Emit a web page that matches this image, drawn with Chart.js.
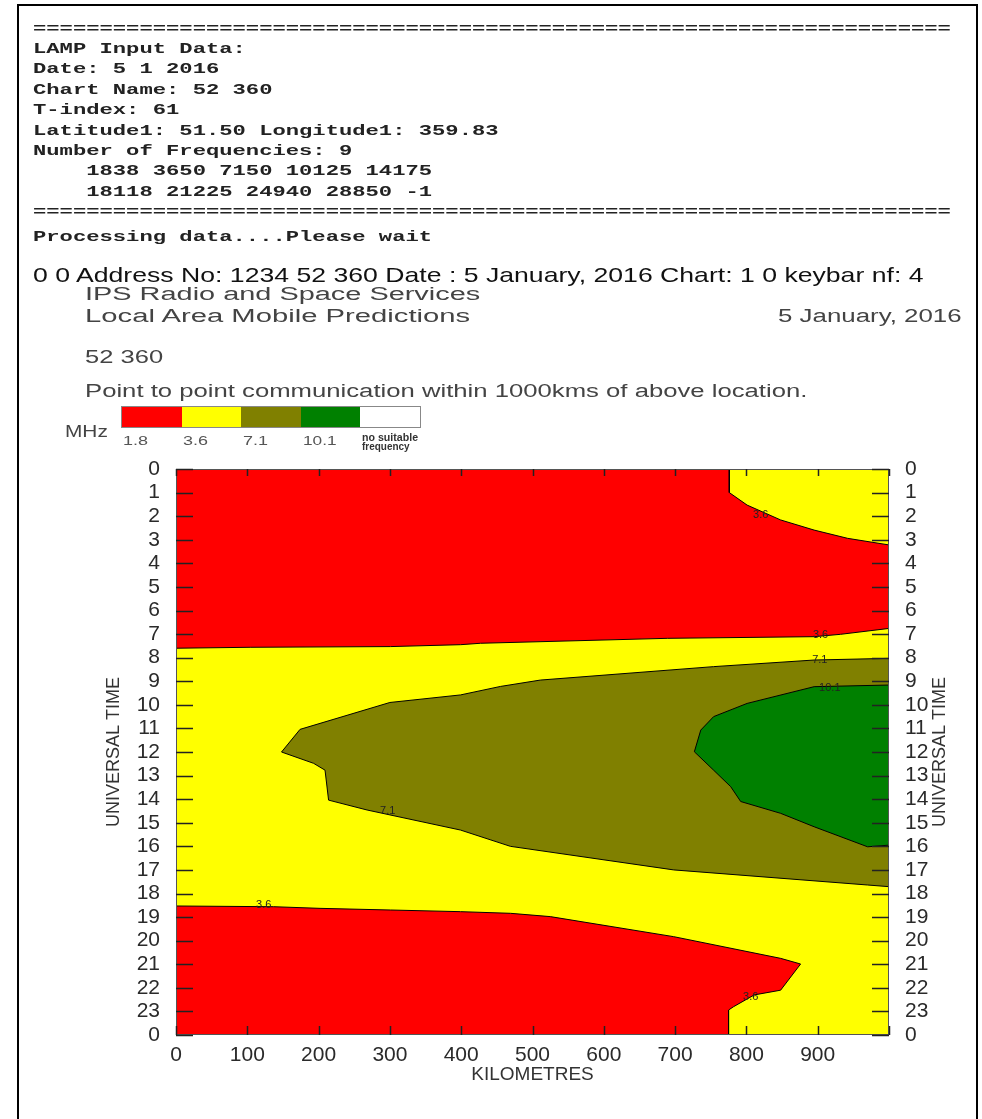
<!DOCTYPE html>
<html>
<head>
<meta charset="utf-8">
<title>LAMP chart 52 360</title>
<script src="https://cdn.jsdelivr.net/npm/chart.js@4.4.1/dist/chart.umd.min.js"></script>
<style>
  body { margin: 0; background: #fff; width: 982px; height: 1119px; overflow: hidden; position: relative; }
  #frame { position: absolute; left: 17px; top: 4px; width: 957px; height: 1200px; border: 2px solid #000; }
  #chart { position: absolute; left: 0; top: 0; }
  .t { position: absolute; white-space: pre; transform-origin: 0 50%; }
  .mono { font-family: "Liberation Mono", monospace; font-weight: bold; font-size: 15px; line-height: 20px; color: #222; }
  .sans { font-family: "Liberation Sans", Arial, sans-serif; color: #444; }
  .cell { position: absolute; top: 0; height: 20px; }
  #keybar { position: absolute; left: 122px; top: 407px; width: 298px; height: 20px; outline: 1px solid #888; }
</style>
</head>
<body>
<div id="frame"></div>
<canvas id="chart" width="982" height="1119"></canvas>

<div class="t mono" data-x="33" data-y="29.5">=====================================================================</div>
<div class="t mono" data-x="33" data-y="49.9">LAMP Input Data:</div>
<div class="t mono" data-x="33" data-y="70.3">Date: 5 1 2016</div>
<div class="t mono" data-x="33" data-y="90.7">Chart Name: 52 360</div>
<div class="t mono" data-x="33" data-y="111.1">T-index: 61</div>
<div class="t mono" data-x="33" data-y="131.5">Latitude1: 51.50 Longitude1: 359.83</div>
<div class="t mono" data-x="33" data-y="151.9">Number of Frequencies: 9</div>
<div class="t mono" data-x="33" data-y="172.3">    1838 3650 7150 10125 14175</div>
<div class="t mono" data-x="33" data-y="192.7">    18118 21225 24940 28850 -1</div>
<div class="t mono" data-x="33" data-y="213.1">=====================================================================</div>
<div class="t mono" data-x="33" data-y="237.5">Processing data....Please wait</div>

<div class="t sans" style="font-size:21px;color:#111" data-x="33" data-y="275" data-w="890">0 0 Address No: 1234 52 360 Date : 5 January, 2016 Chart: 1 0 keybar nf: 4</div>
<div class="t sans" style="font-size:18px" data-x="85" data-y="294" data-w="395">IPS Radio and Space Services</div>
<div class="t sans" style="font-size:18px" data-x="85" data-y="316" data-w="385">Local Area Mobile Predictions</div>
<div class="t sans" style="font-size:18px" data-x="778" data-y="316" data-w="184">5 January, 2016</div>
<div class="t sans" style="font-size:18px" data-x="85" data-y="357" data-w="78">52 360</div>
<div class="t sans" style="font-size:18px" data-x="85" data-y="391" data-w="722">Point to point communication within 1000kms of above location.</div>
<div class="t sans" style="font-size:16px" data-x="65" data-y="432" data-w="43">MHz</div>

<div id="keybar"></div>
<div id="keylabels"></div>

<script>
// legend (key bar)
var keyColors = ['#ff0000', '#ffff00', '#808000', '#008000', '#ffffff'];
var keyLabels = ['1.8', '3.6', '7.1', '10.1'];

// tick labels
var kmTicks = ['0', '100', '200', '300', '400', '500', '600', '700', '800', '900', ''];
var hourTicks = ['0', '1', '2', '3', '4', '5', '6', '7', '8', '9', '10', '11', '12',
                 '13', '14', '15', '16', '17', '18', '19', '20', '21', '22', '23', '0'];

// contour regions, [km, UT hour]
var redTop = [[0, 0], [776, 0], [776, 1.0], [801, 1.53], [848, 2.16], [895, 2.59], [942, 2.94],
              [1000, 3.22], [1000, 6.76], [932, 7.01], [895, 7.11], [689, 7.18], [427, 7.39],
              [399, 7.45], [301, 7.53], [104, 7.56], [0, 7.6]];
var redBottom = [[0, 18.53], [137, 18.56], [202, 18.63], [301, 18.7], [399, 18.77], [469, 18.84],
                 [525, 18.98], [698, 19.83], [848, 20.75], [876, 20.99], [848, 22.1], [811, 22.3],
                 [782, 22.8], [775, 22.94], [775, 24], [0, 24]];
var olive = [[1000, 8.03], [895, 8.1], [754, 8.38], [511, 8.95], [455, 9.22], [399, 9.58], [300, 9.9],
             [174, 11.04], [148, 12.0], [193, 12.48], [209, 12.77], [214, 14.04], [268, 14.46],
             [399, 15.31], [469, 16.0], [698, 17.0], [970, 17.64], [1000, 17.71]];
var green = [[1000, 9.16], [895, 9.23], [801, 9.94], [754, 10.5], [736, 11.07], [727, 11.99],
             [754, 12.77], [778, 13.47], [792, 14.1], [848, 14.6], [895, 15.17], [970, 16.02], [1000, 15.95]];

// contour labels [km, hour, text]
var contourLabels = [[820, 1.95, '3.6'], [904, 7.03, '3.6'], [903, 8.1, '7.1'], [917, 9.3, '10.1'],
                     [297, 14.5, '7.1'], [123, 18.5, '3.6'], [806, 22.4, '3.6']];

// key bar cells + labels
var bar = document.getElementById('keybar');
keyColors.forEach(function (c, i) {
    var d = document.createElement('div');
    d.className = 'cell';
    d.style.left = (i * 59.6) + 'px';
    d.style.width = '59.6px';
    d.style.background = c;
    bar.appendChild(d);
});
var kl = document.getElementById('keylabels');
keyLabels.forEach(function (s, i) {
    var d = document.createElement('div');
    d.className = 't sans';
    d.style.fontSize = '13px';
    d.style.color = '#555';
    d.dataset.x = 123 + i * 60;
    d.dataset.y = 440;
    d.dataset.w = s.length * 8.3;
    d.textContent = s;
    kl.appendChild(d);
});
[['no suitable', 437, 56], ['frequency', 446, 48]].forEach(function (r) {
    var d = document.createElement('div');
    d.className = 't sans';
    d.style.fontSize = '11px';
    d.style.fontWeight = 'bold';
    d.style.color = '#333';
    d.dataset.x = 362;
    d.dataset.y = r[1];
    d.dataset.w = r[2];
    d.textContent = r[0];
    kl.appendChild(d);
});

// place and stretch text like the wide original
document.querySelectorAll('.t').forEach(function (el) {
    var w = el.dataset.w ? +el.dataset.w : el.textContent.length * 13.3;
    el.style.left = el.dataset.x + 'px';
    el.style.top = (el.dataset.y - el.offsetHeight / 2) + 'px';
    el.style.transform = 'scaleX(' + (w / el.offsetWidth) + ')';
});

Chart.defaults.font.family = '"Liberation Sans", Arial, sans-serif';

function onEdge(a, b) {
    return (a[0] === b[0] && (a[0] === 0 || a[0] === 1000)) ||
           (a[1] === b[1] && (a[1] === 0 || a[1] === 24));
}

function toXY(pts) {
    return pts.map(function (p) { return {x: p[0], y: p[1]}; });
}

// filled area of one region
function regionFill(pts, color, order) {
    return {
        data: toXY(pts),
        backgroundColor: color,
        borderWidth: 0,
        fill: 'shape',
        pointRadius: 0,
        tension: 0,
        order: order
    };
}

// its black contour, left out where it runs along the plot frame
function regionLine(pts) {
    return {
        data: toXY(pts),
        borderColor: '#000',
        borderWidth: 1,
        fill: false,
        pointRadius: 0,
        tension: 0,
        order: 0,
        segment: {
            borderColor: function (ctx) {
                return onEdge(pts[ctx.p0DataIndex], pts[ctx.p1DataIndex]) ? 'rgba(0,0,0,0)' : '#000';
            }
        }
    };
}

var plotPlugin = {
    id: 'plotExtras',
    beforeDraw: function (chart) {
        var a = chart.chartArea, ctx = chart.ctx;
        ctx.save();
        ctx.fillStyle = '#ffff00';
        ctx.fillRect(a.left, a.top, a.right - a.left, a.bottom - a.top);
        ctx.restore();
    },
    afterDraw: function (chart) {
        var a = chart.chartArea, ctx = chart.ctx;
        var x = chart.scales.x, y = chart.scales.y;
        ctx.save();
        // contour labels
        ctx.fillStyle = '#222';
        ctx.font = '11px "Liberation Sans", Arial, sans-serif';
        ctx.textAlign = 'center';
        ctx.textBaseline = 'middle';
        contourLabels.forEach(function (c) {
            ctx.fillText(c[2], x.getPixelForValue(c[0]), y.getPixelForValue(c[1]));
        });
        // frame
        ctx.strokeStyle = '#555';
        ctx.lineWidth = 1;
        ctx.strokeRect(a.left + 0.5, a.top + 0.5, a.right - a.left - 1, a.bottom - a.top - 1);
        // inward tick marks
        ctx.strokeStyle = '#222';
        ctx.lineWidth = 1.5;
        ctx.beginPath();
        y.ticks.forEach(function (t) {
            var py = Math.round(y.getPixelForValue(t.value)) + 0.5;
            ctx.moveTo(a.left, py); ctx.lineTo(a.left + 17, py);
            ctx.moveTo(a.right - 17, py); ctx.lineTo(a.right, py);
        });
        x.ticks.forEach(function (t) {
            var px = Math.round(x.getPixelForValue(t.value)) + 0.5;
            ctx.moveTo(px, a.top); ctx.lineTo(px, a.top + 7);
            ctx.moveTo(px, a.bottom - 9); ctx.lineTo(px, a.bottom);
        });
        ctx.stroke();
        // right axis title, reading upwards like the left one
        ctx.fillStyle = '#333';
        ctx.font = '18px "Liberation Sans", Arial, sans-serif';
        ctx.translate(940, (a.top + a.bottom) / 2);
        ctx.rotate(-Math.PI / 2);
        ctx.fillText('UNIVERSAL TIME', 0, 0);
        ctx.restore();
    }
};

function hourAxis(pos, width, withTitle) {
    return {
        type: 'linear', position: pos, min: 0, max: 24, reverse: true,
        grid: {display: false}, border: {display: false},
        ticks: {
            stepSize: 1, autoSkip: false, padding: 8, color: '#2a2a2a',
            font: {size: 21},
            callback: function (v) { return hourTicks[v]; }
        },
        title: {display: withTitle, text: 'UNIVERSAL TIME', color: '#333', font: {size: 18}, padding: {top: 103}},
        afterFit: function (s) { s.width = width; }
    };
}

new Chart(document.getElementById('chart'), {
    type: 'line',
    data: {
        datasets: [
            regionFill(redTop, '#ff0000', 4),
            regionFill(redBottom, '#ff0000', 3),
            regionFill(olive, '#808000', 2),
            regionFill(green, '#008000', 1),
            regionLine(redTop),
            regionLine(redBottom),
            regionLine(olive),
            regionLine(green)
        ]
    },
    options: {
        responsive: false,
        animation: false,
        layout: {padding: {top: 469, left: 0, right: 0, bottom: 0}},
        plugins: {legend: {display: false}, tooltip: {enabled: false}},
        scales: {
            x: {
                type: 'linear', position: 'bottom', min: 0, max: 1000,
                grid: {display: false}, border: {display: false},
                ticks: {
                    stepSize: 100, autoSkip: false, maxRotation: 0, padding: 0, color: '#2a2a2a',
                    font: {size: 21},
                    callback: function (v) { return kmTicks[Math.round(v / 100)]; }
                },
                title: {display: true, text: 'KILOMETRES', color: '#333', font: {size: 19}, padding: {top: 0, bottom: 33}},
                afterFit: function (s) { s.height = 84; }
            },
            y: hourAxis('left', 176, true),
            y2: hourAxis('right', 93, false)
        }
    },
    plugins: [plotPlugin]
});
</script>
</body>
</html>
